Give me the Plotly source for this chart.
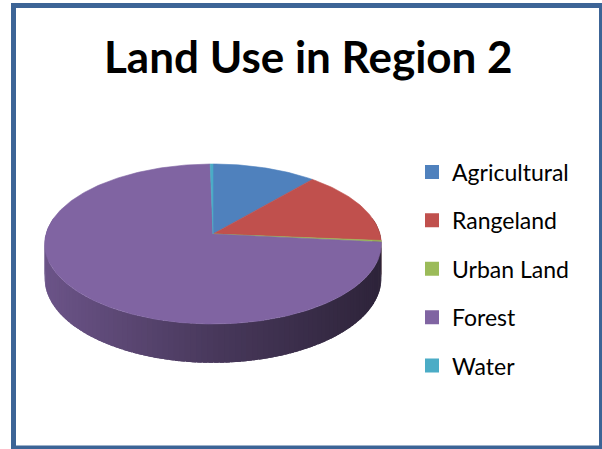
import numpy as np
import plotly.graph_objects as go

# Land use shares in Region 2 (percent of total area)
categories = ["Agricultural", "Rangeland", "Urban Land", "Forest", "Water"]
shares = [11.3, 15.0, 0.3, 73.1, 0.3]
colors = ["#4F81BD", "#C0504D", "#9BBB59", "#8064A2", "#4BACC6"]
title_text = "Land Use in Region 2"

# Geometry of the tilted disc (in page pixels)
CX, CY = 213.0, 234.0      # pie centre on the top face
R, RY = 167.0, 78.75       # horizontal radius and depth radius
K = 0.125                  # perspective strength
DEPTH = 34.0               # thickness of the disc


def project(theta, drop=0.0):
    """Map an angle (clockwise from 12 o'clock) on the disc rim to page pixels."""
    u, v = np.sin(theta), np.cos(theta)
    s = 1.0 / (1.0 + K * v)
    return CX + R * u * s, CY - RY * v * s + drop * s


def shade(hex_color, f):
    h = hex_color.lstrip("#")
    r, g, b = (int(h[i:i + 2], 16) for i in (0, 2, 4))
    return "rgb(%d,%d,%d)" % (r * f, g * f, b * f)


total = float(sum(shares))
edges = np.concatenate([[0.0], np.cumsum(shares) / total * 2 * np.pi])

fig = go.Figure()

# Side wall of the disc: overlapping strips, darker toward the right
theta_side = np.linspace(np.radians(78), np.radians(282), 121)
step = theta_side[1] - theta_side[0]
for a0 in theta_side[:-1]:
    a1 = min(a0 + 1.8 * step, theta_side[-1])
    t = np.linspace(a0, a1, 5)
    xt, yt = project(t)
    xb, yb = project(t[::-1], DEPTH)
    mid = a0 + 0.5 * step
    idx = int(np.searchsorted(edges, mid, side="right") - 1)
    idx = min(max(idx, 0), len(categories) - 1)
    xm, _ = project(mid)
    f = np.interp(xm, [CX - R, CX, CX + R], [0.84, 0.57, 0.36])
    col = shade(colors[idx], f)
    fig.add_trace(go.Scatter(
        x=np.concatenate([xt, xb, xt[:1]]),
        y=np.concatenate([yt, yb, yt[:1]]),
        mode="lines", fill="toself", fillcolor=col,
        line=dict(color=col, width=0),
        hoverinfo="skip", showlegend=False))

# Top face slices
for i, (name, col) in enumerate(zip(categories, colors)):
    a0, a1 = edges[i], edges[i + 1]
    n = max(3, int(np.degrees(a1 - a0)))
    t = np.linspace(a0, a1, n)
    xs, ys = project(t)
    fig.add_trace(go.Scatter(
        x=np.concatenate([[CX], xs, [CX]]),
        y=np.concatenate([[CY], ys, [CY]]),
        mode="lines", fill="toself", fillcolor=col,
        line=dict(color=col, width=0.6),
        name=name, hoverinfo="name", showlegend=False))

# Legend entries
for name, col in zip(categories, colors):
    fig.add_trace(go.Scatter(
        x=[None], y=[None], mode="markers", name=name, legendgroup=name,
        marker=dict(symbol="square", size=14, color=col)))

fig.update_layout(
    width=602, height=449,
    margin=dict(l=0, r=0, t=0, b=0),
    paper_bgcolor="white", plot_bgcolor="white",
    xaxis=dict(range=[0, 602], visible=False, fixedrange=True),
    yaxis=dict(range=[449, 0], visible=False, fixedrange=True),
    showlegend=True,
    legend=dict(
        x=412 / 602, y=1 - 150.5 / 449, xanchor="left", yanchor="top",
        font=dict(family="Lato", size=23, color="black"),
        tracegroupgap=15.5, bgcolor="rgba(0,0,0,0)", borderwidth=0),
    annotations=[dict(
        text="<b>" + title_text + "</b>", x=308, y=55.5, xref="x", yref="y",
        showarrow=False, xanchor="center", yanchor="middle",
        font=dict(family="Lato", size=44, color="black"))],
    shapes=[dict(
        type="rect", xref="x", yref="y", x0=13.5, y0=5.5, x1=601.5, y1=448,
        line=dict(color="#3C6496", width=5), fillcolor="rgba(0,0,0,0)",
        layer="above")],
)

fig.write_html("out.html")
